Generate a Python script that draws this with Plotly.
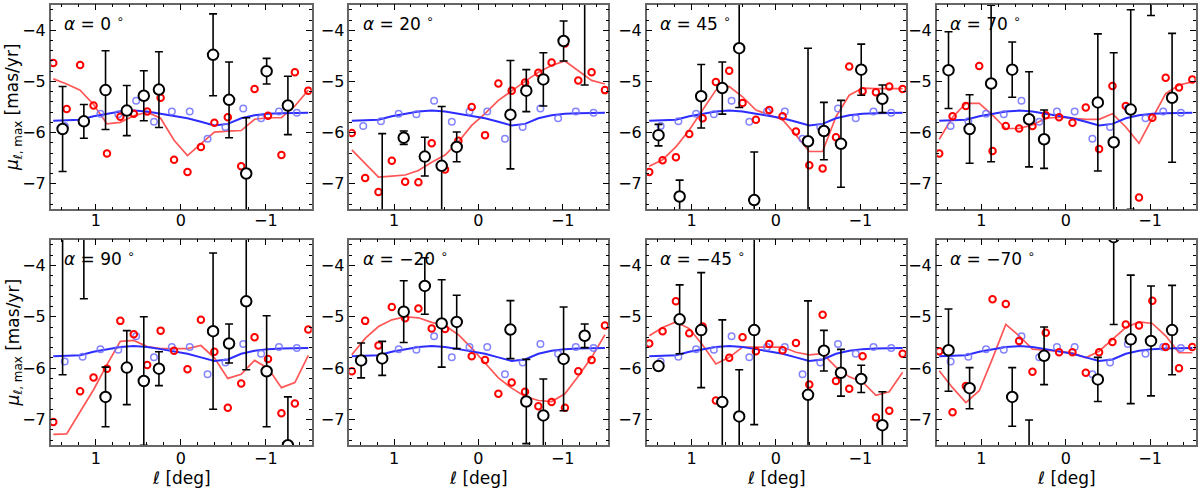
import plotly.graph_objects as go

# ---------------- data ----------------
ALPHAS = [0, 20, 45, 70, 90, -20, -45, -70]

# longitude grid of red (model) points / lines
RED_X = [1.5, 1.342, 1.184, 1.026, 0.868, 0.711, 0.553, 0.395, 0.237, 0.079,
         -0.079, -0.237, -0.395, -0.553, -0.711, -0.868, -1.026, -1.184, -1.342, -1.5]
# longitude grid of blue (reference model) points
BLUE_X = [1.365, 1.155, 0.945, 0.735, 0.525, 0.315, 0.105,
          -0.105, -0.315, -0.525, -0.735, -0.945, -1.155, -1.365]
# longitude of observed (black) points
BLK_X = [1.39, 1.14, 0.885, 0.635, 0.435, 0.257, -0.38, -0.568, -0.77, -1.01, -1.26]

# blue model: identical in every panel
blue_pts = [-5.87, -5.78, -5.63, -5.64, -5.38, -5.79, -5.59, -5.59, -6.12, -5.89,
            -5.53, -5.72, -5.59, -5.61]
blue_line = [-5.77, -5.76, -5.75, -5.68, -5.63, -5.59, -5.57, -5.59, -5.63, -5.67,
             -5.72, -5.79, -5.86, -5.83, -5.72, -5.66, -5.63, -5.62, -5.61, -5.61]

# alpha = 0
red_pts_p0 = [-4.64, -5.54, -4.68, -5.47, -6.41, -5.69, -5.63, -5.59, -5.32, -6.53,
              -6.77, -6.28, -5.81, -5.70, -6.66, -5.15, -5.67, -6.44, -4.82, -5.18]
red_line_p0 = [-4.95, -5.05, -5.17, -5.45, -5.83, -5.80, -5.67, -5.60, -5.72, -6.15,
               -6.45, -6.22, -5.99, -5.97, -5.96, -5.74, -5.71, -5.71, -5.48, -5.17]
blk_y_p0 = [-5.93, -5.78, -5.17, -5.57, -5.28, -5.16, -4.48, -5.36, -6.80, -4.80, -5.47]
blk_e_p0 = [0.83, 0.33, 0.77, 0.49, 0.49, 0.74, 0.80, 0.74, 1.09, 0.25, 0.57]

# alpha = 20
red_pts_p20 = [-6.01, -6.89, -7.16, -6.55, -6.96, -6.97, -6.21, -6.72, -6.16, -5.50,
               -6.05, -5.04, -5.18, -5.02, -4.83, -4.63, -4.26, -4.98, -4.82, -5.17]
red_line_p20 = [-6.34, -6.60, -6.87, -6.85, -6.83, -6.74, -6.58, -6.44, -6.18, -5.86,
                -5.63, -5.37, -5.18, -5.00, -4.82, -4.69, -4.60, -4.79, -4.98, -5.05]
blk_y_p20 = [None, -7.70, -6.10, -6.47, -6.65, -6.28, -5.65, -5.18, -4.96, -4.21, -3.30]
blk_e_p20 = [0, 1.68, 0.13, 0.38, 1.16, 0.29, 1.06, 0.41, 0.52, 0.39, 1.77]

# alpha = 45
red_pts_p45 = [-6.77, -6.54, -6.48, -6.03, -5.72, -5.01, -4.79, -5.42, -5.75, -5.56,
               -5.68, -5.98, -6.64, -6.70, -6.09, -4.71, -5.19, -5.21, -5.10, -5.15]
red_line_p45 = [-6.66, -6.53, -6.28, -5.95, -5.56, -5.17, -5.10, -5.30, -5.56, -5.66,
                -5.75, -6.05, -6.37, -6.37, -5.69, -5.27, -5.13, -5.14, -5.14, -5.14]
blk_y_p45 = [-6.05, -7.25, -5.29, -5.13, -4.35, -7.32, -6.17, -5.97, -6.22, -4.77, -5.34]
blk_e_p45 = [0.21, 0.32, 0.62, 0.51, 1.16, 0.94, 1.82, 0.56, 0.85, 0.50, 0.27]

# alpha = 70
red_pts_p70 = [-6.41, -5.68, -5.48, -4.70, -6.36, -5.87, -5.92, -5.87, -5.66, -5.70,
               -5.81, -5.51, -6.32, -5.09, -5.48, -7.27, -5.71, -4.93, -5.12, -4.96]
red_line_p70 = [-6.13, -5.70, -5.43, -5.43, -5.66, -5.92, -5.92, -5.85, -5.72, -5.70,
                -5.72, -5.74, -5.74, -5.63, -5.89, -6.21, -5.72, -5.24, -5.07, -5.01]
blk_y_p70 = [-4.78, -5.93, -5.04, -4.77, -5.74, -6.13, -5.41, -6.19, -5.55, -3.20, -5.32]
blk_e_p70 = [0.75, 0.67, 1.53, 0.54, 0.93, 0.57, 1.34, 1.75, 1.95, 0.51, 1.26]

# alpha = 90
red_pts_p90 = [-7.05, None, -6.45, -6.18, -6.01, -5.08, -5.34, -5.94, -5.27, -5.66,
               -6.02, -5.06, -5.68, -6.77, -6.30, -5.40, -5.82, -6.88, -6.69, -5.25]
red_line_p90 = [-7.29, -7.28, -6.85, -6.42, -5.93, -5.48, -5.46, -5.58, -5.62, -5.62,
                -5.62, -5.56, -5.80, -6.20, -6.12, -5.85, -6.00, -6.38, -6.28, -5.75]
blk_y_p90 = [-3.30, -3.30, -6.56, -5.99, -6.25, -6.01, -5.28, -5.52, -4.70, -6.06, -7.50]
blk_e_p90 = [2.83, 1.35, 0.58, 0.72, 1.25, 0.33, 1.52, 0.38, 1.33, 1.08, 0.94]

# alpha = -20
red_pts_m20 = [-6.06, -5.08, -5.56, -4.81, -5.03, -4.84, -5.23, -5.24, -5.10, -5.77,
               -5.84, -6.50, -6.28, -6.46, -6.74, -6.66, -6.77, -6.06, -5.84, -5.17]
red_line_m20 = [-5.74, -5.42, -5.19, -5.06, -5.00, -5.02, -5.11, -5.17, -5.35, -5.61,
                -5.90, -6.19, -6.39, -6.55, -6.63, -6.65, -6.50, -6.16, -5.79, -5.35]
blk_y_m20 = [-5.85, -5.81, -4.90, -4.40, -5.13, -5.10, -5.25, -6.65, -6.92, -5.82, -5.37]
blk_e_m20 = [0.34, 0.33, 0.60, 0.55, 0.85, 0.52, 0.565, 0.82, 0.71, 1.01, 0.23]

# alpha = -45
red_pts_m45 = [-5.52, -5.28, -4.70, -5.32, -5.19, -6.63, -5.80, -5.40, -5.67, -5.53,
               -5.65, -5.51, -6.32, -4.96, -6.25, -6.40, -5.77, -6.96, -6.83, -5.72]
red_line_m45 = [-5.37, -5.21, -5.10, -5.23, -5.55, -5.92, -5.79, -5.59, -5.59, -5.59,
                -5.59, -5.69, -5.74, -5.72, -5.98, -6.17, -6.27, -6.53, -6.46, -6.08]
blk_y_m45 = [-5.96, -5.05, -5.26, -6.66, -6.94, -5.26, -6.52, -5.66, -6.09, -6.21, -7.11]
blk_e_m45 = [0.05, 0.67, 1.12, 1.60, 0.91, 1.84, 1.83, 0.395, 0.455, 0.265, 0.65]

# alpha = -70
red_pts_m70 = [-5.67, -6.86, -6.35, None, -4.66, -4.75, -5.47, -6.07, -5.31, -5.69,
               -5.69, -6.09, -5.69, -5.49, -5.15, -5.17, -4.69, -5.59, -6.00, -5.59]
red_line_m70 = [-6.05, -6.38, -6.67, -6.44, -5.81, -5.15, -5.37, -5.63, -5.65, -5.67,
                -5.70, -5.80, -5.67, -5.44, -5.21, -5.10, -5.13, -5.37, -5.70, -5.70]
blk_y_m70 = [-5.65, -6.39, None, -6.56, -7.80, -5.76, -6.22, -3.45, -5.44, -5.47, -5.26]
blk_e_m70 = [0.80, 0.40, 0, 0.57, 0.79, 0.56, 0.43, 1.70, 1.25, 1.07, 0.87]

RED_PTS = [red_pts_p0, red_pts_p20, red_pts_p45, red_pts_p70,
           red_pts_p90, red_pts_m20, red_pts_m45, red_pts_m70]
RED_LINES = [red_line_p0, red_line_p20, red_line_p45, red_line_p70,
             red_line_p90, red_line_m20, red_line_m45, red_line_m70]
BLK_Y = [blk_y_p0, blk_y_p20, blk_y_p45, blk_y_p70,
         blk_y_p90, blk_y_m20, blk_y_m45, blk_y_m70]
BLK_E = [blk_e_p0, blk_e_p20, blk_e_p45, blk_e_p70,
         blk_e_p90, blk_e_m20, blk_e_m45, blk_e_m70]

# ---------------- layout geometry ----------------
W, H = 1200, 488
COLS = [(50.7, 311.7), (349.3, 608.3), (646.7, 906.0), (936.7, 1195.7)]
ROWS = [(4.7, 209.3), (239.7, 445.2)]
FONT = "DejaVu Sans"

fig = go.Figure()
layout = dict(
    width=W, height=H, margin=dict(l=0, r=0, t=0, b=0),
    paper_bgcolor="white", plot_bgcolor="white", showlegend=False,
    font=dict(family=FONT, size=16, color="black"),
)
annotations = []

for i in range(8):
    r, c = divmod(i, 4)
    n = i + 1
    xs = "x" if n == 1 else f"x{n}"
    ys = "y" if n == 1 else f"y{n}"
    xkey = "xaxis" if n == 1 else f"xaxis{n}"
    ykey = "yaxis" if n == 1 else f"yaxis{n}"
    x0, x1 = COLS[c]
    y0, y1 = ROWS[r]
    common = dict(
        ticks="inside", ticklen=6, tickwidth=1.4, tickcolor="black",
        showline=True, linecolor="#666666", linewidth=1.5, mirror="allticks",
        showgrid=False, zeroline=False,
        tickfont=dict(family=FONT, size=16, color="black"),
    )
    layout[xkey] = dict(
        domain=[x0 / W, x1 / W], anchor=ys, range=[1.53, -1.54], autorange=False,
        tick0=0, dtick=1, ticklabelstandoff=-4 if r == 0 else -2,
        minor=dict(ticks="inside", tick0=0, dtick=0.2, ticklen=3, tickwidth=1.2,
                   tickcolor="black", showgrid=False),
        **common,
    )
    layout[ykey] = dict(
        domain=[1 - y1 / H, 1 - y0 / H], anchor=xs, range=[-7.5, -3.5], autorange=False,
        tick0=0, dtick=1,
        minor=dict(ticks="inside", tick0=0, dtick=0.2, ticklen=3, tickwidth=1.2,
                   tickcolor="black", showgrid=False),
        **common,
    )

    fig.add_trace(go.Scatter(x=RED_X, y=RED_LINES[i], mode="lines", xaxis=xs, yaxis=ys,
                             line=dict(color="rgba(255,30,30,0.75)", width=1.7)))
    fig.add_trace(go.Scatter(x=RED_X, y=blue_line, mode="lines", xaxis=xs, yaxis=ys,
                             line=dict(color="rgb(45,45,255)", width=2)))
    fig.add_trace(go.Scatter(x=BLUE_X, y=blue_pts, mode="markers", xaxis=xs, yaxis=ys,
                             marker=dict(symbol="circle-open", size=6.5, color="rgba(110,110,255,0.85)",
                                         line=dict(width=1.5))))
    fig.add_trace(go.Scatter(x=RED_X, y=RED_PTS[i], mode="markers", xaxis=xs, yaxis=ys,
                             marker=dict(symbol="circle-open", size=6.5, color="red",
                                         line=dict(width=2))))
    fig.add_trace(go.Scatter(x=BLK_X, y=BLK_Y[i], mode="markers", xaxis=xs, yaxis=ys,
                             marker=dict(symbol="circle", size=10.5, color="white",
                                         line=dict(color="black", width=2)),
                             error_y=dict(type="data", array=BLK_E[i], visible=True,
                                          color="black", thickness=1.6, width=4)))

    a = ALPHAS[i]
    atxt = f"−{abs(a)}" if a < 0 else f"{a}"
    annotations.append(dict(
        xref=f"{xs} domain", yref=f"{ys} domain", x=0.045, y=0.912,
        xanchor="left", yanchor="middle", showarrow=False,
        text=f"<i>α</i> = {atxt} <sup>∘</sup>",
        font=dict(family=FONT, size=17, color="black"),
    ))
    if c == 0:
        annotations.append(dict(
            xref="paper", yref="paper", x=14 / W, y=1 - ((y0 + y1) / 2) / H,
            xanchor="center", yanchor="middle", showarrow=False, textangle=-90,
            text="<i>μ</i><sub><i>ℓ</i>, max</sub> [mas/yr]",
            font=dict(family=FONT, size=17, color="black"),
        ))
    if r == 1:
        annotations.append(dict(
            xref="paper", yref="paper", x=((x0 + x1) / 2) / W, y=1 - 478 / H,
            xanchor="center", yanchor="middle", showarrow=False,
            text="<i>ℓ</i> [deg]",
            font=dict(family=FONT, size=17, color="black"),
        ))

layout["annotations"] = annotations
fig.update_layout(**layout)
fig.write_html("out.html")
